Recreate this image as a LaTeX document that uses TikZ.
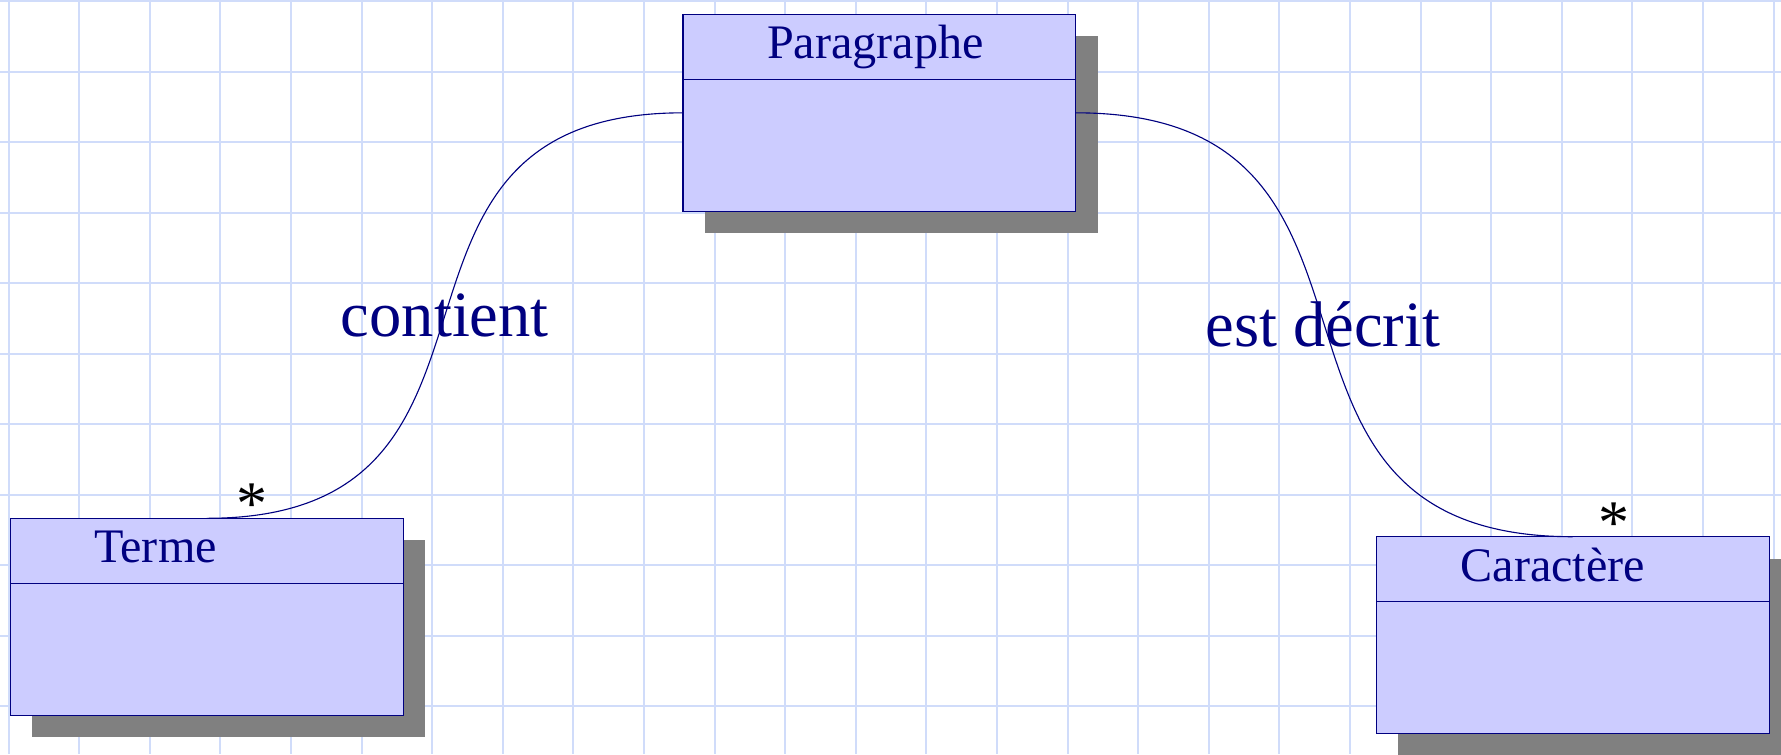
\documentclass[tikz,border=0pt]{standalone}
\usepackage{fontspec}
\setmainfont{Liberation Serif}
\usetikzlibrary{calc,shadows}
\definecolor{navyink}{RGB}{0,0,128}
\definecolor{lavfill}{RGB}{204,204,255}
\definecolor{shadowgray}{RGB}{128,128,128}
\definecolor{gridblue}{RGB}{208,220,250}
\tikzset{
  gridline/.style={draw=gridblue, line width=0.75pt},
  classbox/.style={draw=navyink, line width=0.45pt, fill=lavfill,
    minimum width=5.562cm, minimum height=2.790cm, inner sep=0pt, outer sep=0pt,
    anchor=north west,
    drop shadow={shadow xshift=0.3116cm, shadow yshift=-0.3116cm, fill=shadowgray, opacity=1}},
  classname/.style={text=navyink, font=\fontsize{19.4}{23}\selectfont, inner sep=0pt, anchor=base west},
  divider/.style={draw=navyink, line width=0.45pt},
  assoc/.style={draw=navyink, line width=0.45pt},
  assoclabel/.style={text=navyink, font=\fontsize{26}{30}\selectfont, inner sep=0pt},
  mult/.style={text=black, font=\fontsize{25}{30}\selectfont, inner sep=0pt,
    anchor=base, text depth=-0.3em},
}
\begin{document}
\begin{tikzpicture}[x=0.014164cm, y=-0.014164cm]
\useasboundingbox (0,0) rectangle (1781,754);
\clip (0,0) rectangle (1781,754);
% grid
\foreach \i in {0,...,25} \draw[gridline] (8.6+70.6*\i,0) -- (8.6+70.6*\i,754);
\foreach \j in {0,...,10} \draw[gridline] (0,1.4+70.5*\j) -- (1781,1.4+70.5*\j);
% classes
\node[classbox] (T) at (10.3,518.3) {};
\node[classbox] (P) at (683,14.3) {};
\node[classbox] (C) at (1376.3,536.7) {};
\foreach \n/\t in {T/Terme, P/Paragraphe, C/Caractère}{
  \node[classname] (\n name) at ($(\n.north west)+(83.7,44.5)$) {\t};
  \draw[divider] ($(\n.north west)+(0,65)$) -- ($(\n.north east)+(0,65)$);
}
% associations
\draw[assoc] (P.west) .. controls +(-348,0) and +(348,0) .. (T.north)
  node[assoclabel, midway] (lc) {contient};
\draw[assoc] (P.east) .. controls +(363,0) and +(-363,0) .. (C.north)
  node[assoclabel, midway, xshift=-0.02cm] (ld) {est décrit};
% multiplicities
\node[mult] (mT) at ($(T.north)+(45,6.5)$) {*};
\node[mult] (mC) at ($(C.north)+(41,6.5)$) {*};
\end{tikzpicture}
\end{document}
